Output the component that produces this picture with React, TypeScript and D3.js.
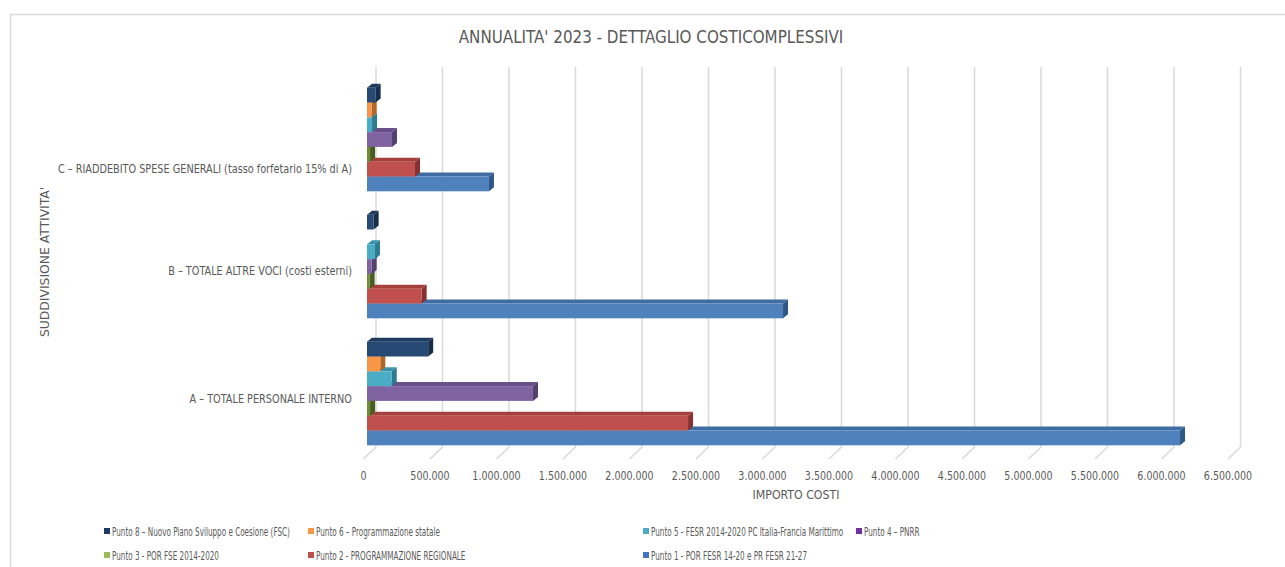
import React from "react";
import * as d3 from "d3";

const categories = [
  "C – RIADDEBITO SPESE GENERALI (tasso forfetario 15% di A)",
  "B – TOTALE ALTRE VOCI (costi esterni)",
  "A – TOTALE PERSONALE INTERNO",
];

const seriesNames = [
  "Punto 8 – Nuovo Piano Sviluppo e Coesione (FSC)",
  "Punto 6 – Programmazione statale",
  "Punto 5 - FESR 2014-2020 PC Italia-Francia Marittimo",
  "Punto 4 – PNRR",
  "Punto 3 -  POR FSE 2014-2020",
  "Punto 2 - PROGRAMMAZIONE REGIONALE",
  "Punto 1 - POR FESR 14-20 e PR FESR 21-27",
];

// values per series, in category order C, B, A
const punto8 = [65000, 50000, 460000];
const punto6 = [35000, 0, 100000];
const punto5 = [38000, 60000, 186000];
const punto4 = [188000, 35000, 1248000];
const punto3 = [23000, 20000, 23000];
const punto2 = [361000, 411000, 2414000];
const punto1 = [917000, 3128000, 6113000];

const seriesValues = [punto8, punto6, punto5, punto4, punto3, punto2, punto1];

const xTicks = [0, 500000, 1000000, 1500000, 2000000, 2500000, 3000000, 3500000, 4000000, 4500000, 5000000, 5500000, 6000000, 6500000];

const front = ["#274a75", "#f79646", "#4bacc6", "#8064a2", "#6f8c36", "#c0504d", "#4f81bd"];
const topC = ["#1e3a5e", "#d27b35", "#3a93ab", "#6a5088", "#5a7529", "#a53f3c", "#3f6ca2"];
const sideC = ["#172d4a", "#b0652a", "#2e7a8e", "#54406d", "#485e20", "#873231", "#2f5786"];
const legendC = ["#1f3864", "#f79646", "#4bacc6", "#7030a0", "#9bbb59", "#c0504d", "#4472c4"];

const FONT = "'DejaVu Sans Condensed', 'DejaVu Sans', sans-serif";
const TXT = "#595959";

function T(props: { x: number; y: number; sx?: number; rot?: number; size: number; anchor?: string; children: React.ReactNode }) {
  const { x, y, sx = 1, rot = 0, size, anchor = "start", children } = props;
  return (
    <text
      transform={`translate(${x},${y}) rotate(${rot}) scale(${sx},1)`}
      textAnchor={anchor}
      fontSize={size}
      fill={TXT}
    >
      {children}
    </text>
  );
}

export default function App() {
  const W = 1285, H = 567;
  const x = d3.scaleLinear().domain([0, 6500000]).range([367, 367 + 13 * 66.5]);
  const y = d3.scaleBand<string>().domain(categories).range([76, 457]).paddingInner(0.184).paddingOuter(0.092);
  const inner = d3.scaleBand<string>().domain(seriesNames).range([0, y.bandwidth()]).padding(0);
  const dx = 5, dy = 4;
  const backOff = 9, frontOff = -3.5;
  const gridTop = 67, gridBottom = 447, floorFront = 459;
  const labelNudge = [29, 4, 5];

  const bars: React.ReactElement[] = [];
  categories.forEach((cat, ci) => {
    for (let si = seriesNames.length - 1; si >= 0; si--) {
      const v = seriesValues[si][ci];
      if (v <= 0) continue;
      const x0 = x(0);
      const x1 = x(v);
      const y0 = (y(cat) as number) + (inner(seriesNames[si]) as number);
      const h = inner.bandwidth();
      bars.push(
        <g key={`${ci}-${si}`}>
          <polygon points={`${x0},${y0} ${x1},${y0} ${x1 + dx},${y0 - dy} ${x0 + dx},${y0 - dy}`} fill={topC[si]} />
          <polygon points={`${x1},${y0} ${x1 + dx},${y0 - dy} ${x1 + dx},${y0 + h - dy} ${x1},${y0 + h}`} fill={sideC[si]} />
          <rect x={x0} y={y0} width={x1 - x0} height={h} fill={front[si]} />
        </g>
      );
    }
  });

  const legendCols = [104, 308, 643, 856];
  const legendRows = [536, 560];
  const fmt = (t: number) => d3.format(",")(t).replace(/,/g, ".");

  return (
    <svg width={W} height={H} style={{ position: "absolute", left: 0, top: 0, background: "#fff" }} fontFamily={FONT}>
      <rect x={0} y={0} width={W} height={H} fill="#fff" />
      <rect x={10.5} y={14.5} width={1300} height={600} fill="#fff" stroke="#d9d9d9" strokeWidth={1.5} />
      <T x={651} y={43} size={17} sx={0.99} anchor="middle">ANNUALITA' 2023 - DETTAGLIO COSTICOMPLESSIVI</T>
      {xTicks.map((t) => (
        <g key={t}>
          <line x1={x(t) + backOff} x2={x(t) + backOff} y1={gridTop} y2={gridBottom} stroke="#d9d9d9" strokeWidth={1.5} />
          <line x1={x(t) + backOff} x2={x(t) + frontOff} y1={gridBottom} y2={floorFront} stroke="#d9d9d9" strokeWidth={1.5} />
          <T x={x(t) + frontOff} y={480} size={12} sx={0.88} anchor="middle">{fmt(t)}</T>
        </g>
      ))}
      {bars}
      {categories.map((c, i) => (
        <T key={c} x={352} y={(y(c) as number) + y.bandwidth() / 2 + labelNudge[i] + 4} size={12} sx={0.9} anchor="end">{c}</T>
      ))}
      <T x={796} y={499} size={12} sx={1.02} anchor="middle">IMPORTO COSTI</T>
      <T x={49} y={262} size={12.5} sx={1.1} rot={-90} anchor="middle">SUDDIVISIONE ATTIVITA'</T>
      {seriesNames.map((s, i) => {
        const col = i % 4, row = Math.floor(i / 4);
        const lx = legendCols[col], ly = legendRows[row];
        return (
          <g key={s}>
            <rect x={lx} y={ly - 8} width={6} height={6} fill={legendC[i]} />
            <T x={lx + 8} y={ly} size={11.5} sx={0.7}>{s}</T>
          </g>
        );
      })}
    </svg>
  );
}
